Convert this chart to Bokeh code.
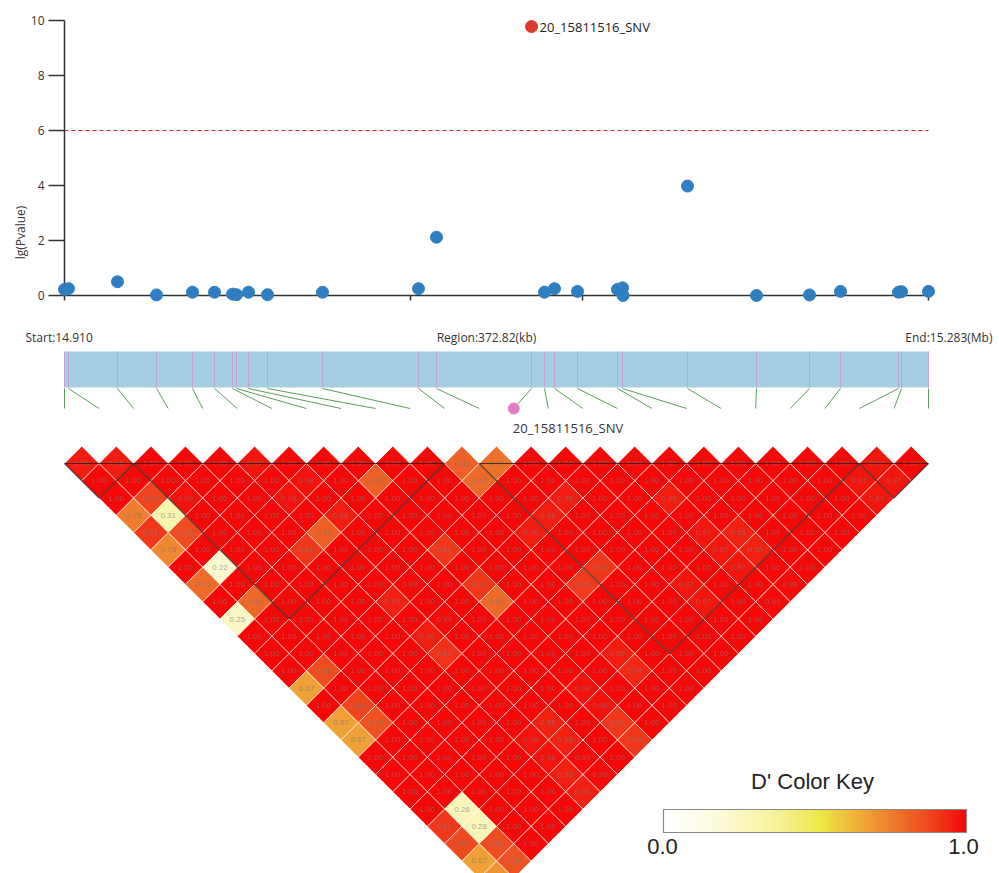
import numpy as np
from bokeh.plotting import figure
from bokeh.models import Range1d, LinearAxis, FixedTicker, ColumnDataSource, LinearColorMapper
from bokeh.transform import transform
from bokeh.core.properties import value
from bokeh.embed import file_html
from bokeh.resources import INLINE

# ---------------- data ----------------
REGION_START_MB = 14.910
REGION_END_MB = 15.283
REGION_KB = 372.82
REGION_STOP_MB = REGION_START_MB + REGION_KB / 1000.0

snp_pos_mb = [14.91000, 14.91173, 14.93287, 14.94970, 14.96523, 14.97473, 14.98249,
              14.98422, 14.98940, 14.99760, 15.02133, 15.06276, 15.07052, 15.11152,
              15.11713, 15.12144, 15.13137, 15.14863, 15.15079, 15.17883, 15.20861,
              15.23148, 15.24486, 15.26988, 15.27118, 15.28282]
lg_pvalue = [0.22, 0.25, 0.50, 0.02, 0.12, 0.12, 0.05, 0.03, 0.12, 0.03, 0.12, 0.25, 2.12,
             9.78, 0.12, 0.25, 0.15, 0.22, 0.28, 3.98, 0.00, 0.02, 0.15, 0.12, 0.14, 0.15]
# association-only marker (no LD data)
extra_pos_mb = [15.15100]
extra_lg_pvalue = [0.00]
lead_snp = "20_15811516_SNV"
lead_index = 13
threshold = 6
y_ticks = [0, 2, 4, 6, 8, 10]
y_label = "lg(Pvalue)"

# D' values, row d holds pairs (i, i+d+1)
ld_rows = [
    [0.96, 0.96, 1.00, 1.00, 1.00, 0.97, 1.00, 1.00, 1.00, 1.00, 1.00, 0.82, 0.78, 1.00, 1.00, 1.00, 0.99, 1.00, 1.00, 1.00, 1.00, 1.00, 1.00, 0.97, 1.00],
    [1.00, 1.00, 1.00, 1.00, 1.00, 1.00, 0.98, 1.00, 0.82, 1.00, 1.00, 0.80, 1.00, 1.00, 1.00, 1.00, 1.00, 1.00, 1.00, 1.00, 1.00, 1.00, 0.97, 0.97],
    [1.00, 0.88, 0.98, 1.00, 1.00, 0.98, 1.00, 1.00, 1.00, 1.00, 1.00, 1.00, 1.00, 0.96, 1.00, 1.00, 0.96, 1.00, 1.00, 1.00, 1.00, 1.00, 0.97],
    [0.75, 0.31, 1.00, 1.00, 1.00, 1.00, 0.96, 1.00, 1.00, 1.00, 1.00, 1.00, 0.96, 1.00, 1.00, 1.00, 1.00, 1.00, 1.00, 1.00, 1.00, 1.00],
    [0.91, 0.86, 1.00, 1.00, 1.00, 0.82, 1.00, 1.00, 1.00, 1.00, 1.00, 0.96, 1.00, 1.00, 1.00, 1.00, 0.97, 0.95, 1.00, 1.00, 1.00],
    [0.73, 1.00, 1.00, 1.00, 0.91, 1.00, 1.00, 1.00, 0.91, 1.00, 1.00, 1.00, 1.00, 1.00, 1.00, 1.00, 0.97, 0.95, 1.00, 1.00],
    [1.00, 0.22, 1.00, 1.00, 1.00, 1.00, 1.00, 1.00, 1.00, 1.00, 1.00, 1.00, 0.91, 1.00, 1.00, 1.00, 0.97, 1.00, 1.00],
    [0.79, 1.00, 1.00, 1.00, 1.00, 1.00, 0.99, 1.00, 0.91, 1.00, 1.00, 0.90, 1.00, 1.00, 0.97, 1.00, 1.00, 0.99],
    [1.00, 0.80, 1.00, 1.00, 1.00, 0.95, 1.00, 1.00, 0.80, 1.00, 1.00, 1.00, 1.00, 1.00, 0.97, 1.00, 0.99],
    [0.25, 1.00, 1.00, 1.00, 1.00, 1.00, 0.99, 1.00, 1.00, 1.00, 1.00, 1.00, 1.00, 1.00, 1.00, 1.00],
    [1.00, 1.00, 1.00, 1.00, 1.00, 0.96, 1.00, 1.00, 1.00, 1.00, 1.00, 1.00, 1.00, 1.00, 1.00],
    [1.00, 1.00, 1.00, 1.00, 1.00, 0.92, 1.00, 1.00, 1.00, 1.00, 0.96, 1.00, 1.00, 1.00],
    [1.00, 0.86, 1.00, 1.00, 1.00, 1.00, 1.00, 1.00, 1.00, 1.00, 0.94, 1.00, 1.00],
    [0.67, 1.00, 1.00, 1.00, 1.00, 1.00, 1.00, 1.00, 0.98, 1.00, 1.00, 1.00],
    [1.00, 0.88, 1.00, 1.00, 1.00, 1.00, 1.00, 1.00, 0.98, 1.00, 1.00],
    [0.67, 0.85, 1.00, 1.00, 1.00, 1.00, 0.95, 1.00, 0.91, 1.00],
    [0.67, 1.00, 1.00, 1.00, 1.00, 0.98, 0.95, 1.00, 0.91],
    [1.00, 1.00, 1.00, 1.00, 1.00, 0.98, 0.99, 1.00],
    [1.00, 1.00, 1.00, 1.00, 1.00, 0.95, 0.99],
    [1.00, 1.00, 1.00, 1.00, 1.00, 0.95],
    [1.00, 0.28, 1.00, 1.00, 1.00],
    [0.91, 0.28, 1.00, 1.00],
    [0.87, 0.86, 1.00],
    [0.67, 0.85],
    [0.70],
]
ld_blocks = [(0, 2), (2, 11), (12, 23), (23, 25)]
key_title = "D' Color Key"
key_low, key_high = 0.0, 1.0

# ---------------- layout (page pixels) ----------------
W, H = 999, 873
N = len(snp_pos_mb)


def xr(v0, p0, v1, p1):
    k = (v1 - v0) / (p1 - p0)
    return Range1d(v0 - p0 * k, v0 + (W - p0) * k)


def yr(v0, p0, v1, p1):
    q0, q1 = H - p0, H - p1
    k = (v1 - v0) / (q1 - q0)
    return Range1d(v0 - q0 * k, v0 + (H - q0) * k)


FX0, FX1 = 64, 928
CELL = (FX1 - FX0) / (N - 1)

p = figure(width=W, height=H,
           x_range=xr(REGION_START_MB, FX0, REGION_STOP_MB, FX1),
           y_range=yr(0, 295, 10, 20),
           output_backend="svg", toolbar_location=None, min_border=0,
           x_axis_location=None, y_axis_location=None,
           outline_line_color=None, background_fill_color="white")
p.extra_x_ranges = {"px": Range1d(0, W), "snp": xr(0, FX0, N - 1, FX1)}
p.extra_y_ranges = {"py": Range1d(H, 0), "ld": yr(-0.5, 463, -1.5, 463 + CELL)}
p.xgrid.grid_line_color = None
p.ygrid.grid_line_color = None

FONT = value("Open Sans")
ARIAL = value("Liberation Sans")

# ---------------- association plot ----------------
yax = LinearAxis(fixed_location=REGION_START_MB, ticker=FixedTicker(ticks=y_ticks), bounds=(0, 10))
yax.major_tick_out = 16
yax.major_tick_in = 0
yax.minor_tick_out = 0
yax.minor_tick_in = 0
yax.axis_line_width = 1.5
yax.axis_line_color = "#333333"
yax.major_tick_line_color = "#333333"
yax.major_tick_line_width = 1.5
yax.major_label_text_font = "Open Sans"
yax.major_label_text_font_size = "12px"
yax.major_label_text_color = "#333333"
yax.major_label_standoff = 4
p.add_layout(yax, "left")

xticks = [REGION_START_MB + k * (REGION_STOP_MB - REGION_START_MB) / 5 for k in range(6)]
xax = LinearAxis(fixed_location=0, ticker=FixedTicker(ticks=xticks), bounds=(REGION_START_MB, REGION_STOP_MB))
xax.major_tick_out = 5
xax.major_tick_in = 0
xax.minor_tick_out = 0
xax.minor_tick_in = 0
xax.axis_line_width = 1.5
xax.axis_line_color = "#333333"
xax.major_tick_line_color = "#333333"
xax.major_tick_line_width = 1.5
xax.major_label_text_color = None
xax.major_label_text_font_size = "1px"
p.add_layout(xax, "below")

p.segment(x0=[REGION_START_MB], x1=[REGION_STOP_MB], y0=[threshold], y1=[threshold],
          line_color="#E0282E", line_dash="4 3", line_width=1.2)

others = [i for i in range(N) if i != lead_index]
p.scatter(x=[snp_pos_mb[i] for i in others] + extra_pos_mb,
          y=[lg_pvalue[i] for i in others] + extra_lg_pvalue,
          size=12, fill_color="#2E7EC1", line_color="#2E7EC1", level="overlay")
p.scatter(x=[snp_pos_mb[lead_index]], y=[lg_pvalue[lead_index]], size=12,
          fill_color="#D93A2B", line_color="#D93A2B", level="overlay")
p.text(x=[snp_pos_mb[lead_index]], y=[lg_pvalue[lead_index]], text=[lead_snp], x_offset=8,
       text_baseline="middle", text_font=FONT, text_font_size="13px", text_color="#222222")

p.text(x=[20], y=[232], text=[y_label], angle=np.pi / 2, text_align="center",
       text_baseline="middle", text_font=FONT, text_font_size="12px", text_color="#333333",
       x_range_name="px", y_range_name="py")

# ---------------- region bar ----------------
p.text(x=[25], y=[337], text=[f"Start:{REGION_START_MB:.3f}"], text_align="left",
       text_baseline="middle", text_font=FONT, text_font_size="12px", text_color="#333333",
       x_range_name="px", y_range_name="py")
p.text(x=[486], y=[337], text=[f"Region:{REGION_KB:.2f}(kb)"], text_align="center",
       text_baseline="middle", text_font=FONT, text_font_size="12px", text_color="#333333",
       x_range_name="px", y_range_name="py")
p.text(x=[992], y=[337], text=[f"End:{REGION_END_MB:.3f}(Mb)"], text_align="right",
       text_baseline="middle", text_font=FONT, text_font_size="12px", text_color="#333333",
       x_range_name="px", y_range_name="py")

p.quad(left=[REGION_START_MB], right=[REGION_STOP_MB], top=[351], bottom=[387],
       fill_color="#A6CEE3", line_color=None, y_range_name="py")
p.segment(x0=snp_pos_mb, x1=snp_pos_mb, y0=[351] * N, y1=[387] * N,
          line_color="#C4A0D4", line_width=1, y_range_name="py")

slot_mb = [REGION_START_MB + k * (REGION_STOP_MB - REGION_START_MB) / (N - 1) for k in range(N)]
p.segment(x0=snp_pos_mb, x1=slot_mb, y0=[388] * N, y1=[408] * N,
          line_color="#5C9E5A", line_width=1, y_range_name="py")
p.scatter(x=[slot_mb[lead_index]], y=[408], size=11, fill_color="#E47BC8",
          line_color="#E47BC8", y_range_name="py")
p.text(x=[slot_mb[lead_index]], y=[427], text=[lead_snp], x_offset=-1, text_align="left",
       text_baseline="middle", text_font=FONT, text_font_size="13px", text_color="#333333",
       y_range_name="py")

# ---------------- LD heatmap ----------------
anchors = [(0.00, (255, 255, 255)), (0.20, (252, 250, 215)), (0.40, (245, 240, 140)),
           (0.52, (236, 232, 70)), (0.65, (240, 170, 55)), (0.80, (238, 105, 40)),
           (0.90, (240, 60, 28)), (1.00, (244, 8, 8))]
palette = []
for t in np.linspace(0, 1, 256):
    for (a0, c0), (a1, c1) in zip(anchors[:-1], anchors[1:]):
        if a0 <= t <= a1:
            f = (t - a0) / (a1 - a0)
            c = [int(round(c0[k] + f * (c1[k] - c0[k]))) for k in range(3)]
            palette.append("#%02x%02x%02x" % tuple(c))
            break
mapper = LinearColorMapper(palette=palette, low=key_low, high=key_high)

xs, ys, cx, cy, dv, lab = [], [], [], [], [], []
for d, row in enumerate(ld_rows):
    for i, v in enumerate(row):
        j = i + d + 1
        x0 = (i + j) / 2
        y0 = -(j - i) / 2
        xs.append([x0 - 0.5, x0, x0 + 0.5, x0])
        ys.append([y0, y0 - 0.5, y0, y0 + 0.5])
        cx.append(x0)
        cy.append(y0)
        dv.append(v)
        lab.append(f"{v:.2f}")
src = ColumnDataSource(dict(xs=xs, ys=ys, cx=cx, cy=cy, d=dv, lab=lab))
p.patches("xs", "ys", source=src, fill_color=transform("d", mapper), line_color="white",
          line_alpha=0.75, line_width=0.8, x_range_name="snp", y_range_name="ld")
p.text("cx", "cy", text="lab", source=src, text_align="center", text_baseline="middle",
       text_font=ARIAL, text_font_size="8px", text_color="#7a7a7a", text_alpha=0.65,
       x_range_name="snp", y_range_name="ld")

bxs, bys = [], []
for a, b in ld_blocks:
    bxs.append([a, (a + b) / 2, b])
    bys.append([-0.5, -0.5 - (b - a) / 2, -0.5])
p.patches(bxs, bys, fill_color=None, line_color="#1a1a1a", line_alpha=0.75, line_width=1.2,
          x_range_name="snp", y_range_name="ld")

# ---------------- colour key ----------------
p.text(x=[812], y=[781], text=[key_title], text_align="center", text_baseline="middle",
       text_font=ARIAL, text_font_size="22px", text_color="#222222",
       x_range_name="px", y_range_name="py")
p.image(image=[np.linspace(key_low, key_high, 256)[None, :]], x=663, y=809, dw=303, dh=23,
        color_mapper=mapper, x_range_name="px", y_range_name="py")
p.quad(left=[663], right=[966], top=[809], bottom=[832], fill_color=None,
       line_color="#888888", line_width=1.2, x_range_name="px", y_range_name="py")
p.text(x=[662, 963], y=[846, 846], text=[f"{key_low:.1f}", f"{key_high:.1f}"],
       text_align="center", text_baseline="middle", text_font=ARIAL, text_font_size="22px",
       text_color="#222222", x_range_name="px", y_range_name="py")

open("out.html", "w").write(file_html(p, INLINE))
